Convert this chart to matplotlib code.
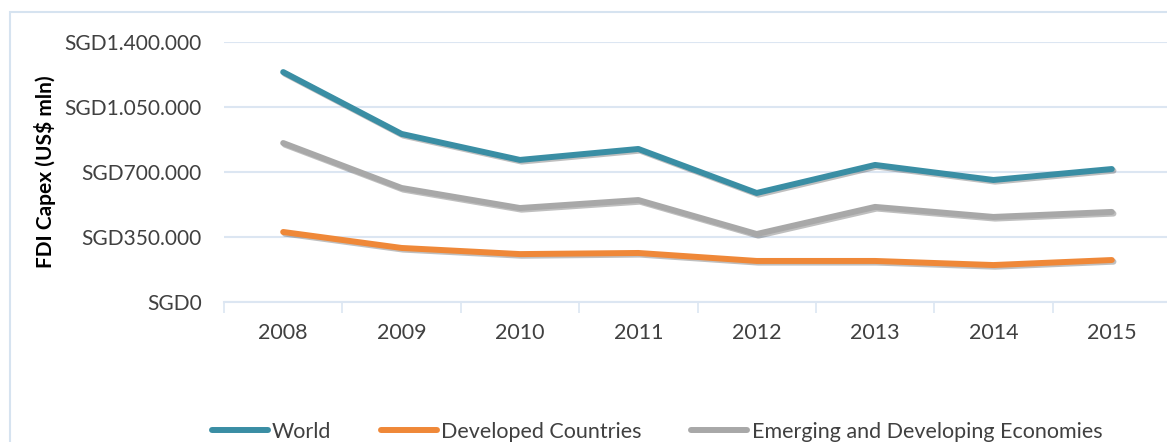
import matplotlib.pyplot as plt
import matplotlib.patheffects as pe
from matplotlib.patches import Rectangle
from matplotlib.ticker import FuncFormatter

years = ['2008', '2009', '2010', '2011', '2012', '2013', '2014', '2015']
world = [1238000, 905000, 765000, 824000, 587000, 738000, 657000, 716000]
developed = [377000, 291000, 258000, 264000, 221000, 221000, 199000, 226000]
emerging = [856000, 614000, 506000, 549000, 366000, 512000, 458000, 485000]
yticks = [0, 350000, 700000, 1050000, 1400000]

plt.rcParams['font.family'] = ['Lato', 'DejaVu Sans']
text_color = '#404040'
grid_color = '#DCE6F2'

fig = plt.figure(figsize=(11.67, 4.42), dpi=100)
fig.patches.append(Rectangle((10 / 1167, -0.1), 1.2, 1 - 12 / 442 + 0.1,
                             transform=fig.transFigure, fill=False,
                             edgecolor='#D6E3F0', linewidth=1.5))

ax = fig.add_axes([224 / 1167, 1 - 302 / 442, 947 / 1167, 260 / 442])

x = list(range(len(years)))
shadow = [pe.SimpleLineShadow(offset=(1.2, -1.2), alpha=0.25, shadow_color='black'), pe.Normal()]
ax.plot(x, world, color='#3A8EA4', lw=4.3, solid_capstyle='round', label='World', path_effects=shadow)
ax.plot(x, developed, color='#EF8838', lw=4.3, solid_capstyle='round', label='Developed Countries', path_effects=shadow)
ax.plot(x, emerging, color='#A8A8A8', lw=4.3, solid_capstyle='round', label='Emerging and Developing Economies', path_effects=shadow)

ax.set_xlim(-0.5, len(years) - 0.5)
ax.set_ylim(0, 1400000)
ax.set_yticks(yticks)
ax.yaxis.set_major_formatter(FuncFormatter(lambda v, p: 'SGD' + f'{int(v):,}'.replace(',', '.')))
ax.set_xticks(x)
ax.set_xticklabels(years)
ax.set_xticks([i - 0.5 for i in range(len(years) + 1)], minor=True)
ax.tick_params(axis='x', which='major', length=0, pad=15, labelsize=15.5, labelcolor=text_color)
ax.tick_params(axis='x', which='minor', length=8, width=1.2, color=grid_color)
ax.tick_params(axis='y', length=0, pad=16, labelsize=15, labelcolor=text_color)
ax.grid(axis='y', color=grid_color, lw=1.5)
ax.set_axisbelow(True)
for s in ['top', 'right', 'left']:
    ax.spines[s].set_visible(False)
ax.spines['bottom'].set_color(grid_color)
ax.spines['bottom'].set_linewidth(1.5)

fig.text(45 / 1167, 1 - 172 / 442, 'FDI Capex (US$ mln)', rotation=90, ha='center', va='center',
         fontsize=15, fontweight='bold', color='black')

leg = fig.legend(loc='center', bbox_to_anchor=(657 / 1167, 1 - 432 / 442), ncol=3, frameon=False,
                 fontsize=15.5, handlelength=2.6, columnspacing=2.3, handletextpad=0.2,
                 labelcolor=text_color)
for h in leg.get_lines():
    h.set_path_effects([])

fig.savefig('out.png', dpi=100)
